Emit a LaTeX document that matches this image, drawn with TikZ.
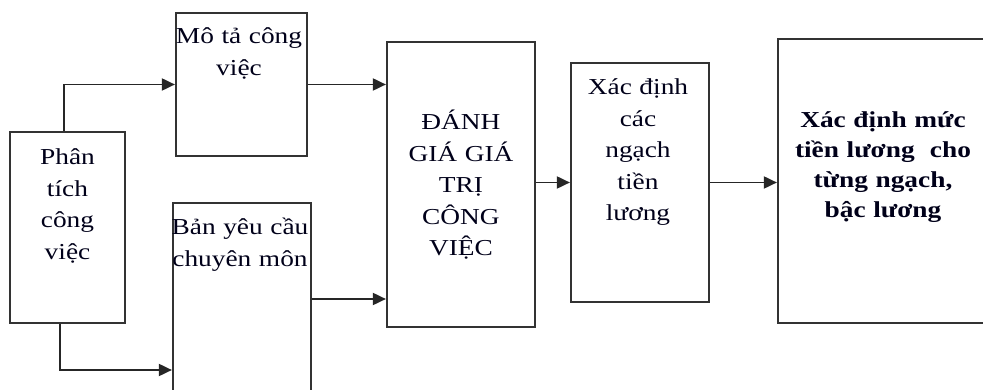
\documentclass[tikz,border=0pt]{standalone}
\usepackage{fontspec}
\setmainfont[FakeStretch=1.2]{Liberation Serif}
\usetikzlibrary{arrows.meta,positioning}

\begin{document}
\begin{tikzpicture}[x=1pt,y=-1pt,
    box/.style={draw=black!80, line width=2.2pt, rectangle, inner sep=0pt},
    txt/.style={anchor=base, text width=200pt, align=center, inner sep=0pt,
        text=black!90!blue, font=\fontsize{22.8}{31.5}\selectfont},
    arr/.style={draw=black!85, line width=1.9pt, -{Triangle[length=13pt,width=12pt]}}]
    \useasboundingbox (0,0) rectangle (983,390);
    \clip (0,0) rectangle (983,390);

    % boxes
    \node[box, minimum width=115pt, minimum height=191pt] (phantich) at (67.5,227.5) {};
    \node[box, minimum width=131pt, minimum height=143pt] (mota) at (241.5,84.5) {};
    \node[box, minimum width=138pt, minimum height=192pt] (banyc) at (242,299) {};
    \node[box, minimum width=148pt, minimum height=285pt] (danhgia) at (461,184.5) {};
    \node[box, minimum width=138pt, minimum height=239pt] (xacdinh) at (640,182.5) {};
    \node[box, minimum width=230pt, minimum height=284pt] (mucluong) at (893,181) {};

    % texts
    \node[txt] (phantich-txt) at (67.5,165) {Phân\\tích\\công\\việc};
    \node[txt] (mota-txt) at (239,44) {Mô tả công\\việc};
    \node[txt] (banyc-txt) at (240,235) {Bản yêu cầu\\chuyên môn};
    \node[txt] (danhgia-txt) at (461,130) {ĐÁNH\\GIÁ GIÁ\\TRỊ\\CÔNG\\VIỆC};
    \node[txt] (xacdinh-txt) at (638,95) {Xác định\\các\\ngạch\\tiền\\lương};
    \node[txt, font=\fontsize{22.8}{30}\selectfont\bfseries] (mucluong-txt) at (883,128)
        {Xác định mức\\tiền lương\ \ cho\\từng ngạch,\\bậc lương};

    % connectors
    \draw[arr] ([xshift=-3.5pt]phantich.north) |- (mota.west);
    \draw[arr] ([xshift=-7.5pt]phantich.south) |- ([yshift=-71pt]banyc.west);
    \draw[arr] (mota.east) -- (mota.east -| danhgia.west);
    \draw[arr] (banyc.east) -- (banyc.east -| danhgia.west);
    \draw[arr] (xacdinh.west -| danhgia.east) -- (xacdinh.west);
    \draw[arr] (xacdinh.east) -- (xacdinh.east -| mucluong.west);
\end{tikzpicture}
\end{document}
